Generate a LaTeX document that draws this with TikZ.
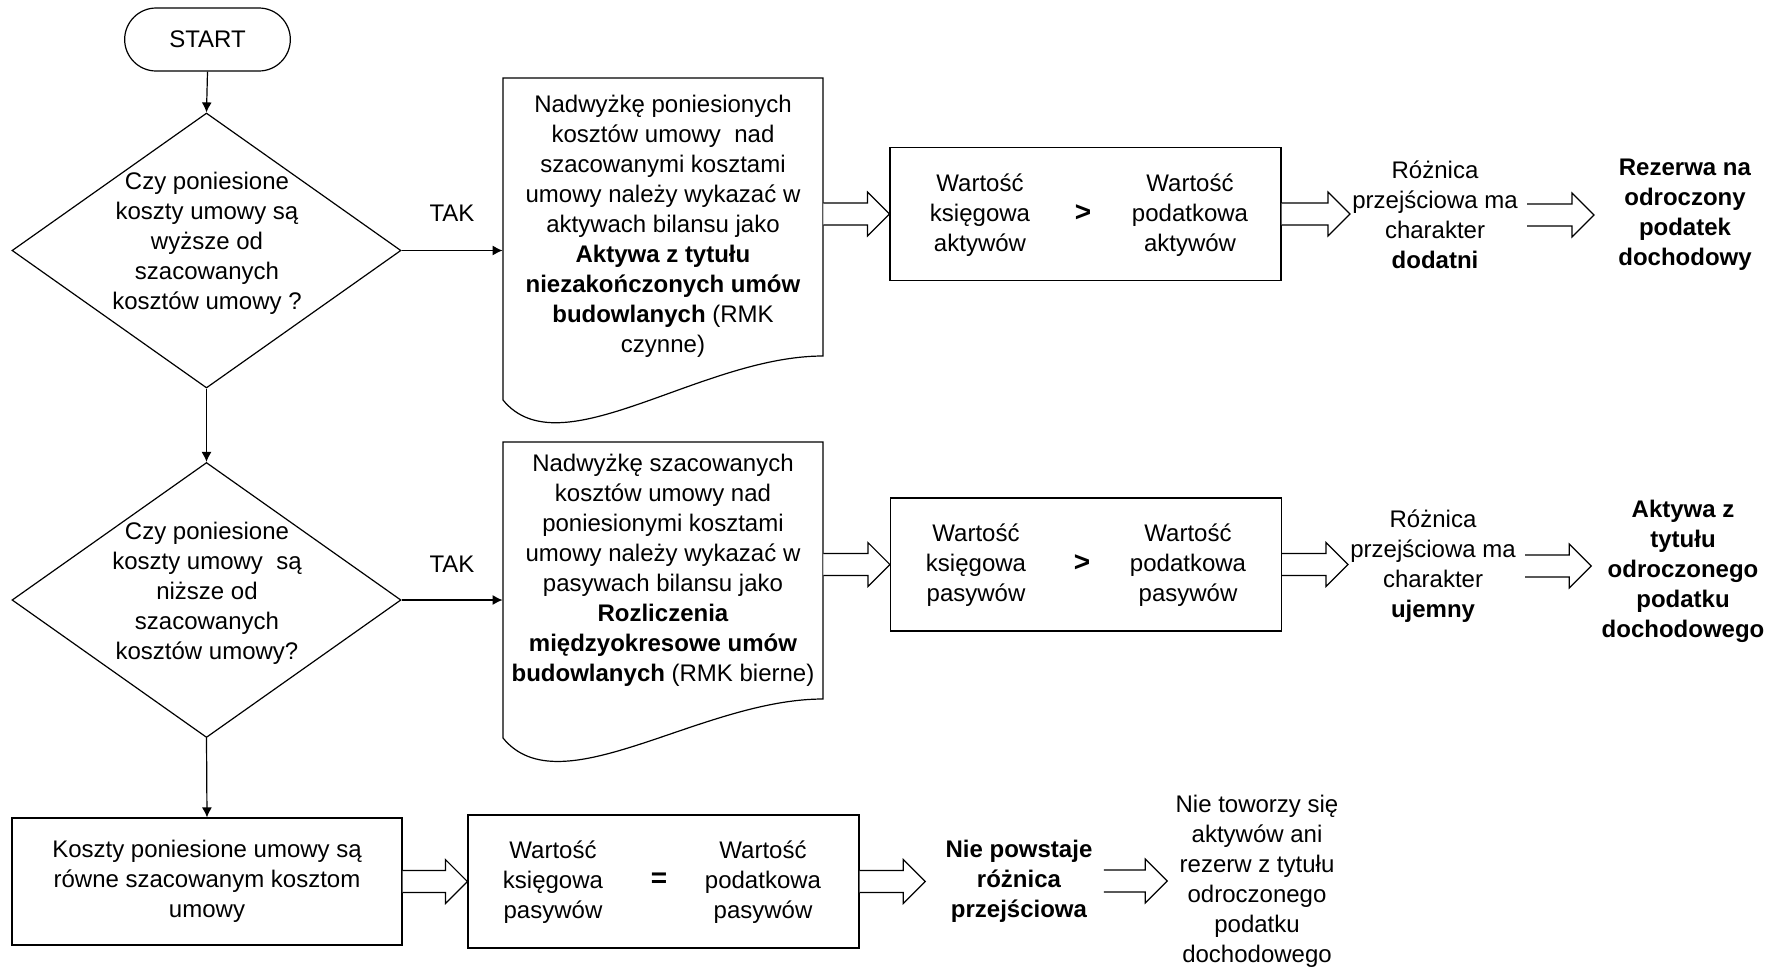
\documentclass[tikz,border=0pt]{standalone}
\usepackage{fontspec}
\setmainfont{Liberation Sans}
\usetikzlibrary{shapes.misc,shapes.geometric,calc,arrows.meta}
\tikzset{flowbox/.style = {draw=black, line width=0.6pt, inner sep=0pt, minimum width=195.5pt, minimum height=66.5pt}}
\tikzset{startbox/.style = {draw=black, line width=0.6pt, rounded rectangle, minimum width=89.5pt, minimum height=31.5pt}}
\tikzset{decision/.style = {draw=black, line width=0.6pt, diamond, inner sep=0pt, minimum width=194.5pt, minimum height=137.5pt}}
\tikzset{txt/.style = {align=center, inner sep=1pt}}
\tikzset{arrow/.style = {line width=0.6pt,-{Latex[length=5pt,width=5pt]}}}
\tikzset{hollow/.style = {line width=0.6pt, fill=white}}

% fat hollow arrow, horizontal, from #1 to the x of #2
\newcommand{\hollowarrow}[2]{%
\draw[hollow] let \p1=#1, \p2=#2 in (\x1,\y1+5.5pt) -- (\x2-11pt,\y1+5.5pt) -- (\x2-11pt,\y1+11pt) -- (\x2,\y1) -- (\x2-11pt,\y1-11pt) -- (\x2-11pt,\y1-5.5pt) -- (\x1,\y1-5.5pt);}

\begin{document}
\begin{tikzpicture}[x=0.5pt,y=-0.5pt,font=\fontsize{12}{15}\selectfont]
\useasboundingbox (0,0) rectangle (1776,970);

\node[startbox] (start) at (207.5,39.5) {START};

\node[decision] (q1) at (206.5,250.5) {};
\node[txt] (q1text) at (207,243) {Czy poniesione\\koszty umowy są\\wyższe od\\szacowanych\\kosztów umowy ?};
\node[decision] (q2) at (206.5,600) {};
\node[txt] (q2text) at (207,593) {Czy poniesione\\koszty umowy~~są\\niższe od\\szacowanych\\kosztów umowy?};

\node[txt] at (452,213) {TAK};
\node[txt] at (452,564) {TAK};

% documents
\draw[line width=0.6pt] (503,400) -- (503,78) -- (823,78) -- (823,356) .. controls (700,356) and (560,470) .. cycle;
\node[txt, minimum width=160pt, inner sep=0pt] (doc1) at (663,226) {Nadwyżkę poniesionych\\kosztów umowy~~nad\\szacowanymi kosztami\\umowy należy wykazać w\\aktywach bilansu jako\\\textbf{Aktywa z tytułu}\\\textbf{niezakończonych umów}\\\textbf{budowlanych} (RMK\\czynne)};

\draw[line width=0.6pt] (503,738) -- (503,442) -- (823,442) -- (823,699) .. controls (700,699) and (560,808) .. cycle;
\node[txt, minimum width=160pt, inner sep=0pt] (doc2) at (663,570) {Nadwyżkę szacowanych\\kosztów umowy nad\\poniesionymi kosztami\\umowy należy wykazać w\\pasywach bilansu jako\\\textbf{Rozliczenia}\\\textbf{międzyokresowe umów}\\\textbf{budowlanych} (RMK bierne)};

% comparison boxes
\node[flowbox] (boxa) at (1085.5,214) {};
\node[txt] (a1) at (980,215) {Wartość\\księgowa\\aktywów};
\node[txt] at (1083,213) {\fontsize{14}{15}\selectfont\textbf{>}};
\node[txt] (a2) at (1190,215) {Wartość\\podatkowa\\aktywów};

\node[flowbox] (boxb) at (1086,564.5) {};
\node[txt] (b1) at (976,565) {Wartość\\księgowa\\pasywów};
\node[txt] at (1082,563) {\fontsize{14}{15}\selectfont\textbf{>}};
\node[txt] (b2) at (1188,565) {Wartość\\podatkowa\\pasywów};

\node[flowbox, minimum height=63.5pt, minimum width=195pt] (boxc) at (207,881.5) {};
\node[txt] (c1) at (207,881) {Koszty poniesione umowy są\\równe szacowanym kosztom\\umowy};

\node[flowbox] (boxd) at (663.5,881.5) {};
\node[txt] (d1) at (553,882) {Wartość\\księgowa\\pasywów};
\node[txt] at (659,880) {\fontsize{14}{15}\selectfont\textbf{=}};
\node[txt] (d2) at (763,882) {Wartość\\podatkowa\\pasywów};

% results
\node[txt] (ro1) at (1435,215) {Różnica\\przejściowa ma\\charakter\\\textbf{dodatni}};
\node[txt] (rez1) at (1685,215) {\textbf{Rezerwa na}\\\textbf{odroczony}\\\textbf{podatek}\\\textbf{dochodowy}};
\node[txt] (ro2) at (1433,566) {Różnica\\przejściowa ma\\charakter\\\textbf{ujemny}};
\node[txt] (akt2) at (1683,571) {\textbf{Aktywa z}\\\textbf{tytułu}\\\textbf{odroczonego}\\\textbf{podatku}\\\textbf{dochodowego}};
\node[txt] (nie) at (1019,881) {\textbf{Nie powstaje}\\\textbf{różnica}\\\textbf{przejściowa}};
\node[txt] (brak) at (1257,881) {Nie toworzy się\\aktywów ani\\rezerw z tytułu\\odroczonego\\podatku\\dochodowego};

% flow
\draw[arrow] (start.south) -- (q1.north);
\draw[arrow] (q1.south) -- (q2.north);
\draw[arrow] (q2.south) -- (boxc.north);
\draw[arrow] (q1.east) -- (q1.east -| doc1.west);
\draw[arrow] (q2.east) -- (q2.east -| doc2.west);

\hollowarrow{(doc1.east |- boxa.west)}{(boxa.west)}
\hollowarrow{(boxa.east)}{(ro1.west)}
\hollowarrow{([xshift=3.5pt]ro1.east)}{([xshift=-11pt]rez1.west)}
\hollowarrow{(doc2.east |- boxb.west)}{(boxb.west)}
\hollowarrow{(boxb.east)}{(ro2.west)}
\hollowarrow{([xshift=3.5pt]ro2.east)}{([xshift=-4pt]akt2.west)}
\hollowarrow{(boxc.east)}{(boxd.west)}
\hollowarrow{(boxd.east)}{([xshift=-9pt]nie.west)}
\hollowarrow{([xshift=4.5pt]nie.east)}{([xshift=-3pt]brak.west)}
\end{tikzpicture}
\end{document}
